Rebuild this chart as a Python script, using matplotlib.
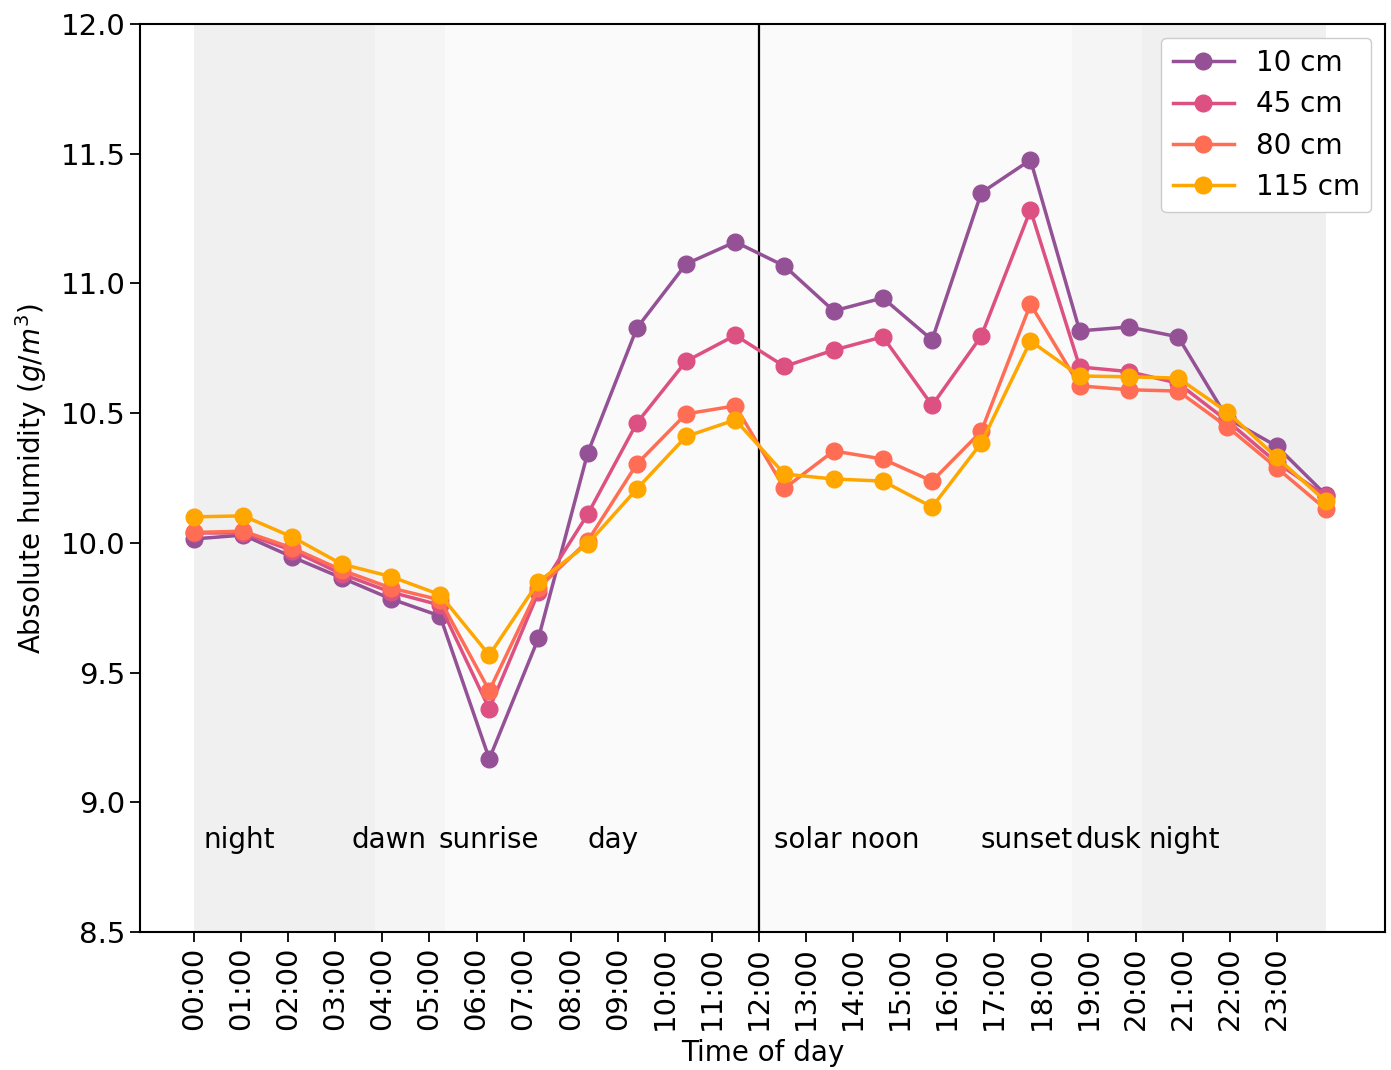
import numpy as np
import matplotlib
matplotlib.use("Agg")
import matplotlib.pyplot as plt

# ---- data ----
hours = np.linspace(0, 24.04, 24)  # sample times (h)
tick_hours = list(range(24))
tick_labels = [f"{h:02d}:00" for h in tick_hours]

series_labels = ["10 cm", "45 cm", "80 cm", "115 cm"]
series_colors = ["#955196", "#dd5182", "#ff6e54", "#ffa600"]

h10 = [10.015, 10.03, 9.945, 9.865, 9.784, 9.718, 9.167, 9.633, 10.346, 10.828,
       11.075, 11.16, 11.067, 10.894, 10.944, 10.782, 11.349, 11.476, 10.817, 10.832,
       10.794, 10.48, 10.373, 10.185]
h45 = [10.038, 10.038, 9.97, 9.88, 9.81, 9.76, 9.36, 9.81, 10.11, 10.462,
       10.70, 10.80, 10.68, 10.743, 10.794, 10.53, 10.797, 11.283, 10.678, 10.66,
       10.615, 10.47, 10.31, 10.18]
h80 = [10.04, 10.045, 9.98, 9.895, 9.826, 9.78, 9.43, 9.826, 10.007, 10.304,
       10.497, 10.528, 10.21, 10.354, 10.323, 10.238, 10.43, 10.92, 10.605, 10.59,
       10.585, 10.447, 10.29, 10.13]
h115 = [10.10, 10.104, 10.022, 9.918, 9.87, 9.80, 9.567, 9.85, 9.996, 10.208,
        10.41, 10.474, 10.265, 10.246, 10.238, 10.138, 10.385, 10.778, 10.643, 10.64,
        10.635, 10.504, 10.33, 10.16]
series = [h10, h45, h80, h115]

# shaded periods (start h, end h, color)
periods = [(0.0, 3.85, "#f0f0f0"), (3.85, 5.34, "#f5f5f5"), (5.34, 18.64, "#fafafa"),
           (18.64, 20.13, "#f5f5f5"), (20.13, 24.04, "#f0f0f0")]
phase_labels = ["night", "dawn", "sunrise", "day", "solar noon", "sunset", "dusk", "night"]
phase_x = [0.19, 3.34, 5.2, 8.35, 12.33, 16.7, 18.73, 20.28]
phase_y = 8.855

fig = plt.figure(figsize=(13.91, 10.70), dpi=100)
ax = fig.add_axes([0.1006, 0.129, 0.8951, 0.8486])

for s, e, c in periods:
    ax.axvspan(s, e, color=c, lw=0, zorder=0)

for vals, lab, col in zip(series, series_labels, series_colors):
    ax.plot(hours, vals, "-o", color=col, label=lab, lw=2.5, ms=12, zorder=3)

ax.axvline(12, color="black", lw=1.6, zorder=2)

for t, x in zip(phase_labels, phase_x):
    ax.text(x, phase_y, t, fontsize=20, va="center", ha="left", zorder=4)

ax.set_ylim(8.5, 12.0)
ax.set_xlim(-1.15, 25.3)
ax.set_xticks(tick_hours)
ax.set_xticklabels(tick_labels, rotation=90, fontsize=21)
ax.set_yticks([8.5, 9.0, 9.5, 10.0, 10.5, 11.0, 11.5, 12.0])
ax.tick_params(axis="y", labelsize=21, length=7, width=1.3)
ax.tick_params(axis="x", length=7, width=1.3)
for sp in ax.spines.values():
    sp.set_linewidth(1.5)
ax.set_xlabel("Time of day", fontsize=20, labelpad=6)
ax.set_ylabel("Absolute humidity ($g/m^3$)", fontsize=20, labelpad=8)

leg = ax.legend(loc="upper right", fontsize=20, framealpha=1, borderaxespad=0.5,
                handlelength=2.2, labelspacing=0.48)

fig.savefig("out.png", dpi=100)
